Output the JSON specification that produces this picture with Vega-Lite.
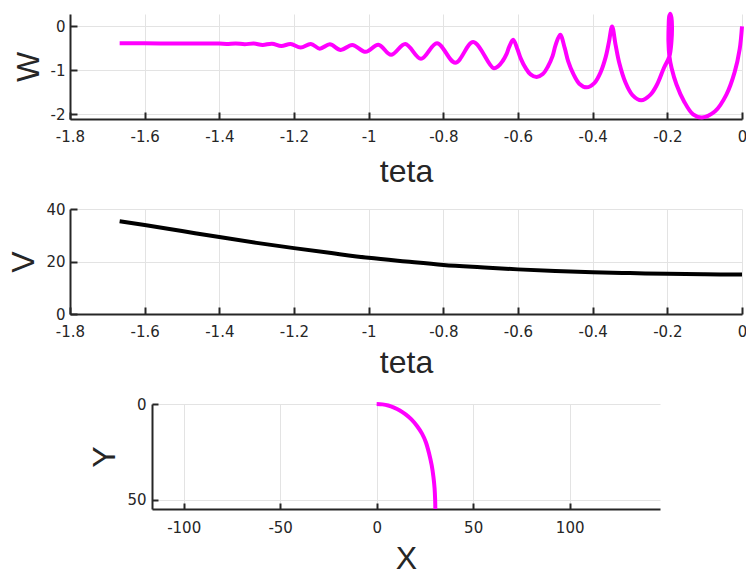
{
  "$schema": "https://vega.github.io/schema/vega-lite/v6.json",
  "padding": {"left": 7, "top": 5, "right": 0, "bottom": 0},
  "background": "white",
  "config": {
    "view": {"stroke": null},
    "font": "Liberation Sans",
    "axis": {
      "domainColor": "#262626", "domainWidth": 2,
      "tickColor": "#262626", "tickWidth": 2, "tickSize": -7,
      "labelColor": "#262626", "labelFontSize": 15, "labelFont": "DejaVu Sans",
      "labelFlush": false, "labelOverlap": false,
      "titleFont": "Liberation Sans", "titleFontSize": 32, "titleFontWeight": "normal", "titleColor": "#262626",
      "gridColor": "#e3e3e3", "gridWidth": 1
    },
    "axisX": {"labelPadding": 17, "titlePadding": 12},
    "axisY": {"labelPadding": 12, "titlePadding": 5}
  },
  "datasets": {
    "w": [
      {"i": 1, "teta": -1.667, "W": -0.384},
      {"i": 2, "teta": -1.6, "W": -0.385},
      {"i": 3, "teta": -1.52, "W": -0.386},
      {"i": 4, "teta": -1.45, "W": -0.387},
      {"i": 5, "teta": -1.4, "W": -0.39},
      {"i": 6, "teta": -1.38, "W": -0.397},
      {"i": 7, "teta": -1.356, "W": -0.386},
      {"i": 8, "teta": -1.332, "W": -0.405},
      {"i": 9, "teta": -1.308, "W": -0.388},
      {"i": 10, "teta": -1.284, "W": -0.422},
      {"i": 11, "teta": -1.259, "W": -0.392},
      {"i": 12, "teta": -1.234, "W": -0.445},
      {"i": 13, "teta": -1.209, "W": -0.4},
      {"i": 14, "teta": -1.182, "W": -0.48},
      {"i": 15, "teta": -1.155, "W": -0.398},
      {"i": 16, "teta": -1.131, "W": -0.505},
      {"i": 17, "teta": -1.104, "W": -0.405},
      {"i": 18, "teta": -1.075, "W": -0.535},
      {"i": 19, "teta": -1.044, "W": -0.42},
      {"i": 20, "teta": -1.008, "W": -0.578},
      {"i": 21, "teta": -0.974, "W": -0.415},
      {"i": 22, "teta": -0.94, "W": -0.645},
      {"i": 23, "teta": -0.902, "W": -0.4},
      {"i": 24, "teta": -0.86, "W": -0.735},
      {"i": 25, "teta": -0.817, "W": -0.38},
      {"i": 28, "teta": -0.768, "W": -0.826},
      {"i": 31, "teta": -0.72, "W": -0.355},
      {"i": 34, "teta": -0.666, "W": -0.947},
      {"i": 35, "teta": -0.6528, "W": -0.902},
      {"i": 36, "teta": -0.6411, "W": -0.786},
      {"i": 37, "teta": -0.6305, "W": -0.625},
      {"i": 38, "teta": -0.6236, "W": -0.464},
      {"i": 39, "teta": -0.613, "W": -0.303},
      {"i": 40, "teta": -0.6017, "W": -0.515},
      {"i": 41, "teta": -0.5928, "W": -0.7265},
      {"i": 42, "teta": -0.5802, "W": -0.938},
      {"i": 43, "teta": -0.5664, "W": -1.091},
      {"i": 44, "teta": -0.55, "W": -1.15},
      {"i": 45, "teta": -0.5336, "W": -1.083},
      {"i": 46, "teta": -0.5198, "W": -0.91},
      {"i": 47, "teta": -0.5072, "W": -0.67},
      {"i": 48, "teta": -0.4996, "W": -0.43},
      {"i": 49, "teta": -0.487, "W": -0.19},
      {"i": 50, "teta": -0.4749, "W": -0.489},
      {"i": 51, "teta": -0.4657, "W": -0.788},
      {"i": 52, "teta": -0.4515, "W": -1.087},
      {"i": 53, "teta": -0.4359, "W": -1.302},
      {"i": 54, "teta": -0.416, "W": -1.386},
      {"i": 55, "teta": -0.3956, "W": -1.289},
      {"i": 56, "teta": -0.3786, "W": -1.0395},
      {"i": 57, "teta": -0.365, "W": -0.693},
      {"i": 58, "teta": -0.3562, "W": -0.3465},
      {"i": 59, "teta": -0.348, "W": 0.0},
      {"i": 60, "teta": -0.3386, "W": -0.42},
      {"i": 61, "teta": -0.3285, "W": -0.84},
      {"i": 62, "teta": -0.3129, "W": -1.26},
      {"i": 63, "teta": -0.2934, "W": -1.562},
      {"i": 64, "teta": -0.27, "W": -1.68},
      {"i": 65, "teta": -0.245, "W": -1.55},
      {"i": 66, "teta": -0.2275, "W": -1.32},
      {"i": 67, "teta": -0.2095, "W": -0.95},
      {"i": 68, "teta": -0.1945, "W": -0.68},
      {"i": 69, "teta": -0.189, "W": -0.35},
      {"i": 70, "teta": -0.1875, "W": 0.0},
      {"i": 71, "teta": -0.189, "W": 0.2},
      {"i": 72, "teta": -0.192, "W": 0.29},
      {"i": 73, "teta": -0.195, "W": 0.22},
      {"i": 74, "teta": -0.1965, "W": 0.0},
      {"i": 75, "teta": -0.197, "W": -0.35},
      {"i": 76, "teta": -0.1945, "W": -0.68},
      {"i": 77, "teta": -0.1885, "W": -0.95},
      {"i": 78, "teta": -0.1755, "W": -1.32},
      {"i": 79, "teta": -0.1555, "W": -1.7},
      {"i": 80, "teta": -0.131, "W": -2.0},
      {"i": 81, "teta": -0.107, "W": -2.07},
      {"i": 82, "teta": -0.0721, "W": -1.931},
      {"i": 83, "teta": -0.0418, "W": -1.5525},
      {"i": 84, "teta": -0.0195, "W": -1.035},
      {"i": 85, "teta": -0.0062, "W": -0.5175},
      {"i": 86, "teta": 0.0, "W": 0.0}
    ],
    "v": [
      {"teta": -1.667, "V": 35.3},
      {"teta": -1.6, "V": 33.9},
      {"teta": -1.5, "V": 31.6},
      {"teta": -1.4, "V": 29.3},
      {"teta": -1.3, "V": 27.1},
      {"teta": -1.2, "V": 25.1},
      {"teta": -1.1, "V": 23.2},
      {"teta": -1.0, "V": 21.4},
      {"teta": -0.9, "V": 20.0},
      {"teta": -0.8, "V": 18.7},
      {"teta": -0.7, "V": 17.8},
      {"teta": -0.6, "V": 17.0},
      {"teta": -0.5, "V": 16.4},
      {"teta": -0.4, "V": 15.9},
      {"teta": -0.3, "V": 15.6},
      {"teta": -0.2, "V": 15.3},
      {"teta": -0.1, "V": 15.1},
      {"teta": 0.0, "V": 15.05}
    ],
    "xy": [
      {"i": 1, "X": 0, "Y": 0},
      {"i": 2, "X": 3, "Y": 0.2},
      {"i": 3, "X": 6, "Y": 0.8},
      {"i": 4, "X": 9, "Y": 1.9},
      {"i": 5, "X": 12, "Y": 3.4},
      {"i": 6, "X": 15, "Y": 5.4},
      {"i": 7, "X": 18, "Y": 8.0},
      {"i": 8, "X": 21, "Y": 11.6},
      {"i": 9, "X": 23.5, "Y": 15.5},
      {"i": 10, "X": 25.5, "Y": 20},
      {"i": 11, "X": 27.2, "Y": 26},
      {"i": 12, "X": 28.5, "Y": 32},
      {"i": 13, "X": 29.4, "Y": 38},
      {"i": 14, "X": 30, "Y": 44},
      {"i": 15, "X": 30.3, "Y": 50},
      {"i": 16, "X": 30.4, "Y": 54.9}
    ]
  },
  "vconcat": [
    {
      "width": 672, "height": 105,
      "data": {"name": "w"},
      "mark": {"type": "line", "color": "#ff00ff", "strokeWidth": 4, "interpolate": "catmull-rom", "clip": false},
      "encoding": {
        "x": {"field": "teta", "type": "quantitative",
          "scale": {"domain": [-1.8, 0], "nice": false, "zero": false},
          "axis": {"title": "teta", "values": [-1.8, -1.6, -1.4, -1.2, -1, -0.8, -0.6, -0.4, -0.2, 0],
            "labelExpr": "replace(format(datum.value, '~g'), '\u2212', '-')"}},
        "y": {"field": "W", "type": "quantitative",
          "scale": {"domain": [-2.106, 0.283], "nice": false, "zero": false},
          "axis": {"title": "W", "values": [-2, -1, 0],
            "labelExpr": "replace(format(datum.value, '~g'), '\u2212', '-')"}},
        "order": {"field": "i", "type": "quantitative"}
      }
    },
    {
      "width": 672, "height": 105,
      "data": {"name": "v"},
      "mark": {"type": "line", "color": "#000000", "strokeWidth": 4, "interpolate": "monotone"},
      "encoding": {
        "x": {"field": "teta", "type": "quantitative",
          "scale": {"domain": [-1.8, 0], "nice": false, "zero": false},
          "axis": {"title": "teta", "titlePadding": 8, "values": [-1.8, -1.6, -1.4, -1.2, -1, -0.8, -0.6, -0.4, -0.2, 0],
            "labelExpr": "replace(format(datum.value, '~g'), '\u2212', '-')"}},
        "y": {"field": "V", "type": "quantitative",
          "scale": {"domain": [0, 40], "nice": false},
          "axis": {"title": "V", "values": [0, 20, 40]}}
      }
    },
    {
      "width": 508, "height": 105,
      "data": {"name": "xy"},
      "mark": {"type": "line", "color": "#ff00ff", "strokeWidth": 4, "interpolate": "catmull-rom"},
      "encoding": {
        "x": {"field": "X", "type": "quantitative",
          "scale": {"domain": [-116.4, 146.8], "nice": false, "zero": false},
          "axis": {"title": "X", "titlePadding": 8, "values": [-100, -50, 0, 50, 100], "tickSize": -6,
            "labelExpr": "replace(format(datum.value, '~g'), '\u2212', '-')"}},
        "y": {"field": "Y", "type": "quantitative",
          "scale": {"domain": [0, 54.9], "nice": false, "reverse": true},
          "axis": {"title": "Y", "values": [0, 50], "tickSize": -6}},
        "order": {"field": "i", "type": "quantitative"}
      }
    }
  ],
  "spacing": 90,
  "bounds": "flush",
  "center": true
}
